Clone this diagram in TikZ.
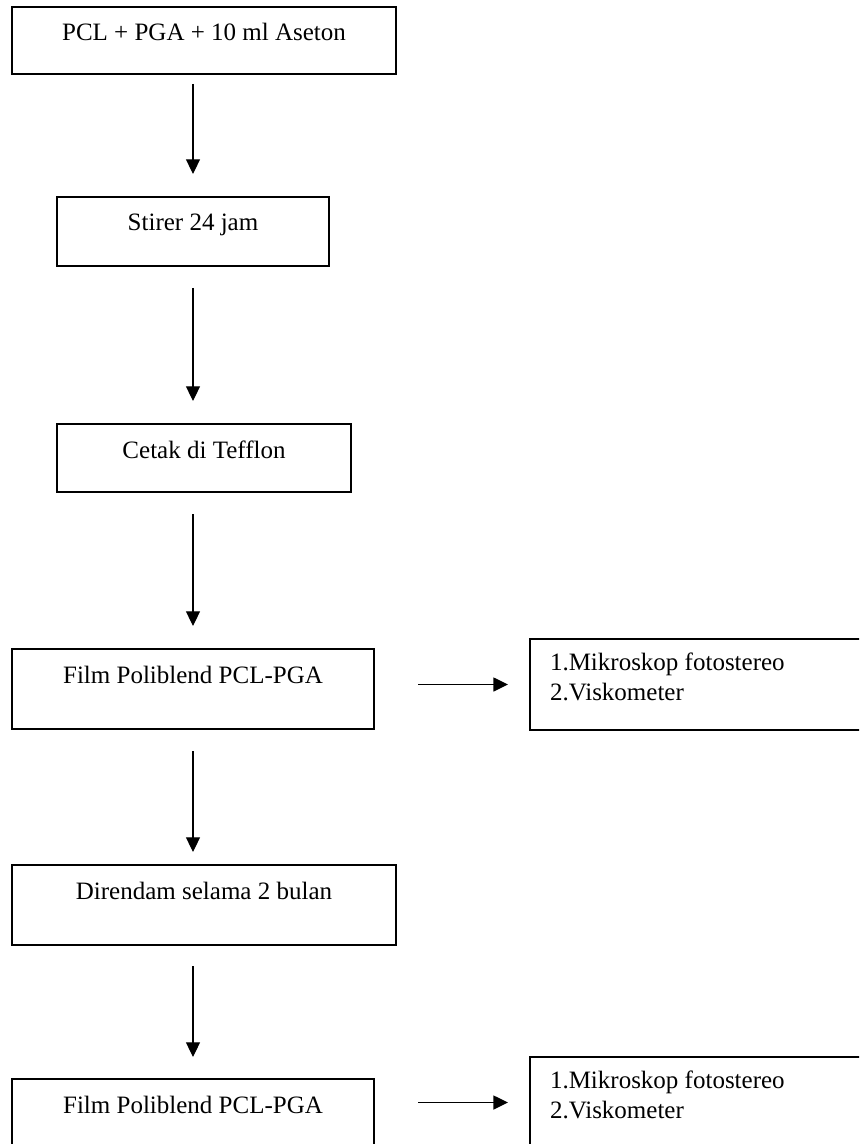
\documentclass[tikz,border=0pt]{standalone}
\usepackage{fontspec}
\setmainfont{Liberation Serif}
\usetikzlibrary{arrows.meta}
\tikzset{
  box/.style 2 args={draw, line width=1.2pt, anchor=north west, inner xsep=0pt, inner ysep=0pt, outer sep=0pt, minimum width=#1*0.75pt, text height=25.5pt, text depth=#2*0.75pt},
  listbox/.style={draw, line width=1.2pt, anchor=north west, inner xsep=15pt, inner ysep=0pt, outer sep=0pt, text height=23.25pt, text depth=45pt},
  flow/.style={-{Triangle[width=10.5pt,length=11pt]}, line width=0.8pt}
}
\begin{document}
\begin{tikzpicture}[x=0.75pt, y=-0.75pt, font=\fontsize{18.75pt}{22.5pt}\selectfont]
  \useasboundingbox (0,0) rectangle (859,1144);
  \clip (0,0) rectangle (859,1144);

  \node[box={384}{33}] (b1) at (12,7) {PCL + PGA + 10 ml Aseton};
  \node[box={272}{35}] (b2) at (57,197) {Stirer 24 jam};
  \node[box={294}{34}] (b3) at (57,424) {Cetak di Tefflon};
  \node[box={362}{46}] (b4) at (12,649) {Film Poliblend PCL-PGA};
  \node[box={384}{46}] (b5) at (12,865) {Direndam selama 2 bulan};
  \node[box={362}{46}] (b6) at (12,1079) {Film Poliblend PCL-PGA};
  \node[listbox] (r1) at (530,639) {\parbox[t]{225pt}{1.Mikroskop fotostereo\\2.Viskometer}};
  \node[listbox] (r2) at (530,1057) {\parbox[t]{225pt}{1.Mikroskop fotostereo\\2.Viskometer}};

  \draw[flow, shorten <=7.5pt, shorten >=17.25pt] (b1.south -| b2.north) -- (b2.north);
  \draw[flow, shorten <=16.5pt, shorten >=17.25pt] (b2.south) -- (b3.north -| b2.south);
  \draw[flow, shorten <=16.5pt, shorten >=17.25pt] (b3.south -| b4.north) -- (b4.north);
  \draw[flow, shorten <=16.5pt, shorten >=9.75pt] (b4.south) -- (b5.north -| b4.south);
  \draw[flow, shorten <=15.75pt, shorten >=16.5pt] (b5.south -| b6.north) -- (b6.north);
  \draw[flow, line width=1.1pt, shorten <=33pt, shorten >=16.5pt] (b4.east |- r1.west) -- (r1.west);
  \draw[flow, line width=1.1pt, shorten <=33pt, shorten >=16.5pt] (b6.east |- r2.west) -- (r2.west);
\end{tikzpicture}
\end{document}
